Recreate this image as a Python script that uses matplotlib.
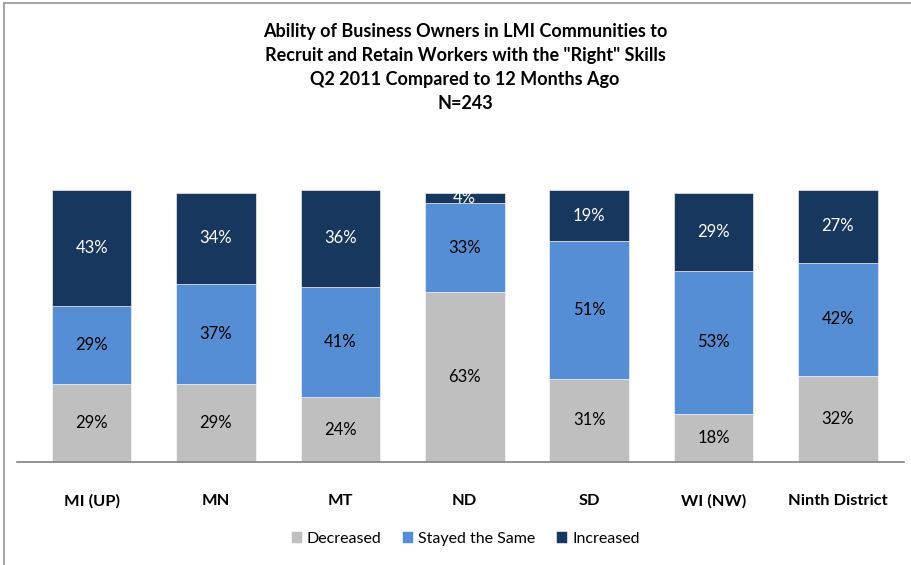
import numpy as np
import matplotlib.pyplot as plt
from matplotlib.patches import Rectangle

plt.rcParams['font.family'] = ['Lato', 'DejaVu Sans']

categories = ['MI (UP)', 'MN', 'MT', 'ND', 'SD', 'WI (NW)', 'Ninth District']
decreased = [29, 29, 24, 63, 31, 18, 32]
stayed_same = [29, 37, 41, 33, 51, 53, 42]
increased = [43, 34, 36, 4, 19, 29, 27]

series = [
    ('Decreased', decreased, '#BFBFBF', 'black'),
    ('Stayed the Same', stayed_same, '#558ED5', 'black'),
    ('Increased', increased, '#17375E', 'white'),
]

title_lines = ['Ability of Business Owners in LMI Communities to',
               'Recruit and Retain Workers with the "Right" Skills',
               'Q2 2011 Compared to 12 Months Ago',
               'N=243']

fig = plt.figure(figsize=(9.12, 5.65), dpi=100)
ax = fig.add_axes([0.0186, 0.1823, 0.9724, 0.4814])

x = np.arange(len(categories))
bottom = np.zeros(len(categories))
handles = []
for name, vals, color, txt_color in series:
    vals = np.array(vals)
    bars = ax.bar(x, vals, width=0.64, bottom=bottom, color=color,
                  edgecolor='white', linewidth=0.4, label=name)
    handles.append(bars)
    for xi, b, v in zip(x, bottom, vals):
        ax.text(xi, b + v / 2, f'{v}%', ha='center', va='center',
                fontsize=12, color=txt_color)
    bottom += vals

ax.set_xlim(-0.6, 6.53)
ax.set_ylim(0, 101)
ax.set_yticks([])
ax.set_xticks(x)
ax.set_xticklabels(categories, fontsize=11.8, fontweight='bold')
ax.tick_params(axis='x', length=0, pad=23)
for side in ['top', 'right', 'left']:
    ax.spines[side].set_visible(False)
ax.spines['bottom'].set_color('#808080')
ax.spines['bottom'].set_linewidth(1.2)

# title, one line at a time (pixel rows 32, 56, 80, 103)
for i, line in enumerate(title_lines):
    fig.text(0.51, 1 - (32 + 23.7 * i) / 565, line, ha='center', va='center',
             fontsize=13, fontweight='bold')

fig.legend(handles=handles, loc='center', bbox_to_anchor=(0.51, 0.047),
           ncol=3, frameon=False, fontsize=11.5, handlelength=0.7,
           handleheight=0.7, handletextpad=0.3, columnspacing=1.3)

# chart frame (top and left edges visible)
fig.add_artist(Rectangle((0.004, -0.01), 1.1, 1.004, transform=fig.transFigure,
                         fill=False, edgecolor='#A6A6A6', linewidth=1.5))

fig.savefig('out.png', dpi=100)
